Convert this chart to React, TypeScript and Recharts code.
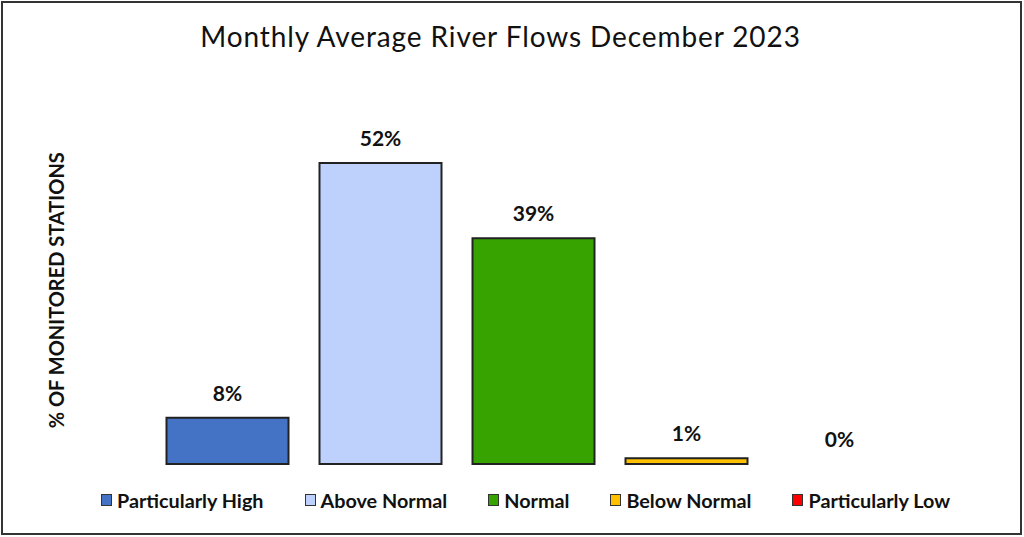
import { BarChart, Bar, XAxis, YAxis, Cell, LabelList, Rectangle } from "recharts";

const categories = ["Particularly High", "Above Normal", "Normal", "Below Normal", "Particularly Low"];
const shares = [8, 52, 39, 1, 0];
const colors = ["#4472C4", "#BDD1FC", "#36A300", "#FFC000", "#FF0000"];

const data = categories.map((name, i) => ({ name, value: shares[i] }));

const FONT = "Lato, 'Open Sans', sans-serif";

// a zero bar draws nothing, but still gets its label
function BarShape(props: any) {
  if (!props.value) return <g />;
  return <Rectangle {...props} />;
}

function ChartLegend() {
  return (
    <div
      style={{
        position: "absolute",
        left: 98,
        top: 486,
        height: 22,
        display: "flex",
        alignItems: "center",
        gap: 41,
        fontFamily: FONT,
        fontWeight: 700,
        fontSize: 19.8,
        color: "#111",
        whiteSpace: "nowrap",
      }}
    >
      {categories.map((c, i) => (
        <div key={c} style={{ display: "flex", alignItems: "center" }}>
          <span
            style={{
              display: "inline-block",
              width: 9,
              height: 10,
              background: colors[i],
              border: "1.5px solid #333",
              marginRight: 5,
            }}
          />
          <span style={{ lineHeight: "22px" }}>{c}</span>
        </div>
      ))}
    </div>
  );
}

export default function App() {
  return (
    <div
      style={{
        position: "absolute",
        left: 1,
        top: 1,
        width: 1017,
        height: 530,
        border: "2px solid #333",
        background: "#fff",
      }}
    >
      <div
        style={{
          position: "absolute",
          left: 0,
          right: 22,
          top: 17,
          lineHeight: "32px",
          textAlign: "center",
          fontFamily: FONT,
          fontSize: 28,
          letterSpacing: 0.9,
          color: "#111",
        }}
      >
        Monthly Average River Flows December 2023
      </div>
      <BarChart
        width={1017}
        height={530}
        data={data}
        margin={{ top: 113.6, right: 104.5, bottom: 69, left: 87.5 }}
      >
        <XAxis dataKey="name" hide />
        <YAxis
          domain={[0, 60]}
          width={60}
          tick={false}
          axisLine={false}
          tickLine={false}
          label={{
            value: "% OF MONITORED STATIONS",
            angle: -90,
            position: "center",
            dx: -63.5,
            style: { fontFamily: FONT, fontWeight: 700, fontSize: 20, fill: "#111" },
          }}
        />
        <Bar
          dataKey="value"
          barSize={122}
          stroke="#222"
          strokeWidth={2}
          minPointSize={0.01}
          shape={BarShape}
          isAnimationActive={false}
        >
          {data.map((d, i) => (
            <Cell key={d.name} fill={colors[i]} />
          ))}
          <LabelList
            dataKey="value"
            position="top"
            offset={17}
            formatter={(v: any) => `${v}%`}
            style={{ fontFamily: FONT, fontWeight: 700, fontSize: 21, fill: "#111" }}
          />
        </Bar>
      </BarChart>
      <ChartLegend />
    </div>
  );
}
